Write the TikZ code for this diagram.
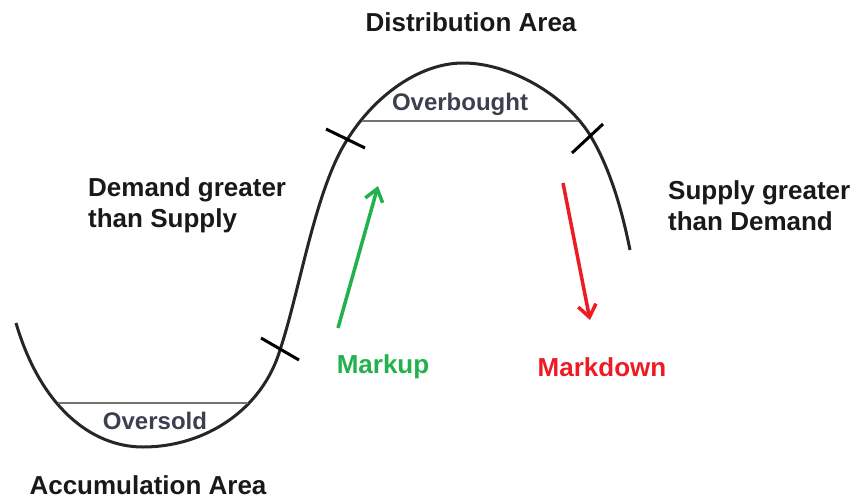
\documentclass[tikz,border=0pt]{standalone}
\usepackage{fontspec}
\setmainfont{Liberation Sans}
\usetikzlibrary{arrows.meta}
\definecolor{pgreen}{HTML}{22B14C}
\definecolor{pred}{HTML}{ED1C24}
\definecolor{lblgray}{HTML}{3A4050}
\begin{document}
\begin{tikzpicture}[x=1pt,y=-1pt,
  lbl/.style={font=\fontsize{26}{31}\selectfont\bfseries, text=black!90, inner sep=0pt},
  lbl2/.style={lbl, align=left},
  zone/.style={font=\fontsize{24}{28}\selectfont\bfseries, text=lblgray, inner sep=0pt},
  curve/.style={line width=3pt, black!85},
  tick/.style={line width=3pt, black},
  zoneline/.style={line width=1.5pt, black!55},
  bigarrow/.style={line width=3.5pt, -{Straight Barb[length=12pt,width=18pt,line width=3.5pt]}}
]
\useasboundingbox (0,0) rectangle (855,501);
% curve
\draw[curve] (16,323) .. controls (40,405) and (90,447) .. (143,447)
  .. controls (205,447) and (262,410) .. (280,350)
  .. controls (300,290) and (315,190) .. (347,140)
  .. controls (375,95) and (420,63) .. (463,63)
  .. controls (510,63) and (565,95) .. (590,135)
  .. controls (610,168) and (622,210) .. (630,250);
% zone lines
\coordinate (os1) at (58,403); \coordinate (os2) at (248,403);
\coordinate (ob1) at (362,121); \coordinate (ob2) at (578,121);
\draw[zoneline] (os1) -- (os2);
\draw[zoneline] (ob1) -- (ob2);
% ticks
\coordinate (t1a) at (261,338); \coordinate (t1b) at (299,360);
\coordinate (t2a) at (326,129); \coordinate (t2b) at (365,148);
\coordinate (t3a) at (572,153); \coordinate (t3b) at (603,124);
\draw[tick] (t1a) -- (t1b);
\draw[tick] (t2a) -- (t2b);
\draw[tick] (t3a) -- (t3b);
% arrows
\coordinate (ga) at (338,328); \coordinate (gb) at (378,186);
\coordinate (ra) at (563,183); \coordinate (rb) at (590,320);
\draw[bigarrow, pgreen] (ga) -- (gb);
\draw[bigarrow, pred] (ra) -- (rb);
% texts
\node[lbl] (dist) at (471,22) {Distribution Area};
\node[lbl] (accu) at (148,485) {Accumulation Area};
\node[lbl2, anchor=west] (dem) at (88,205) {Demand greater\\than Supply};
\node[lbl2, anchor=west] (sup) at (668,206) {Supply greater\\than Demand};
\node[lbl, text=pgreen] (mu) at (383,367) {Markup};
\node[lbl, text=pred] (md) at (602,367) {Markdown};
\node[zone] (os) at (155,421) {Oversold};
\node[zone] (ob) at (460,104) {Overbought};
\end{tikzpicture}
\end{document}
